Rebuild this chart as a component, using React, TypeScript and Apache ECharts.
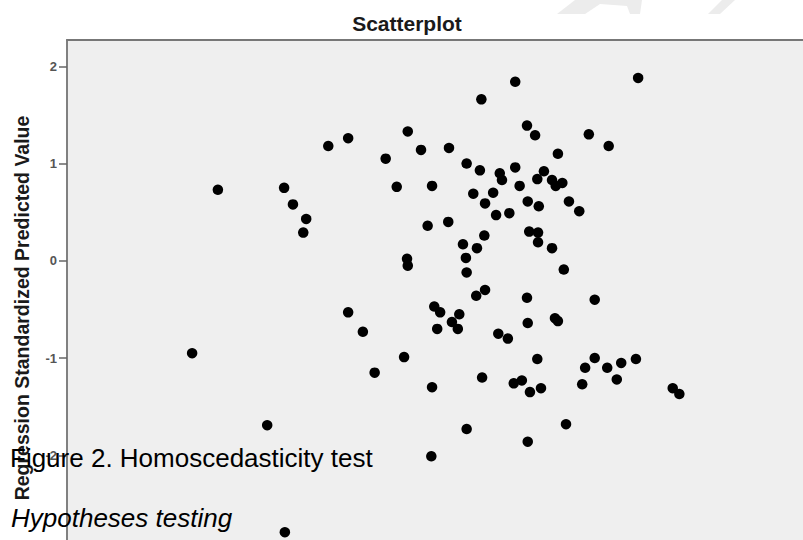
import React, { useEffect, useRef } from "react";
import * as echarts from "echarts";

// Horizontal position of each case (x axis not visible in the reference; arbitrary 0-100 scale)
const residuals = [
  17.0, 20.5, 27.2, 29.6, 29.5, 30.7, 32.5, 32.1, 35.5, 38.2,
  38.2, 40.2, 41.8, 43.3, 44.8, 45.8, 46.3, 46.2, 46.3, 48.1,
  49.0, 49.6, 49.6, 49.5, 49.9, 50.7, 50.3, 51.8, 51.9, 52.3,
  53.1, 53.3, 53.8, 54.2, 54.3, 54.3, 54.3, 55.2, 55.7, 55.6,
  56.1, 56.3, 56.4, 56.7, 56.8, 56.8, 57.9, 58.3, 58.6, 58.8,
  59.1, 59.9, 60.1, 60.7, 60.9, 60.9, 61.5, 61.8, 62.5, 62.5,
  62.6, 62.8, 64.0, 62.6, 62.6, 62.9, 63.6, 63.9, 63.9, 64.1,
  64.0, 64.4, 64.8, 65.9, 66.4, 67.3, 65.9, 66.3, 66.7, 66.7,
  67.5, 67.8, 68.2, 69.6, 70.0, 70.4, 70.9, 71.7, 71.7, 73.4,
  73.6, 74.7, 75.3, 77.3, 77.6, 82.3, 83.2,
];

// Regression standardized predicted value of each case
const predicted = [
  -0.95, 0.73, -1.69, -2.79, 0.75, 0.58, 0.43, 0.29, 1.18, 1.26,
  -0.53, -0.73, -1.15, 1.05, 0.76, -0.99, 1.33, 0.02, -0.05, 1.14,
  0.36, 0.77, -1.3, -2.01, -0.47, -0.53, -0.7, 0.4, 1.16, -0.63,
  -0.7, -0.55, 0.17, 0.03, 1.0, -0.12, -1.73, 0.69, 0.13, -0.36,
  0.93, 1.66, -1.2, 0.26, 0.59, -0.3, 0.7, 0.47, -0.75, 0.9,
  0.83, -0.8, 0.49, -1.26, 1.84, 0.96, 0.77, -1.23, 1.39, -0.38,
  0.61, 0.3, 0.29, -0.64, -1.86, -1.35, 1.29, 0.84, -1.01, 0.56,
  0.19, -1.31, 0.92, 0.83, 0.77, 0.8, 0.13, -0.59, -0.62, 1.1,
  -0.09, -1.68, 0.61, 0.51, -1.27, -1.1, 1.3, -0.4, -1.0, -1.1,
  1.18, -1.22, -1.05, -1.01, 1.88, -1.31, -1.37,
];

const yTickValues = [-2, -1, 0, 1, 2];

const titleText = "Scatterplot";
const yAxisTitle = "Regression Standardized Predicted Value";
const captionText = "Figure 2. Homoscedasticity test";
const subheadText = "Hypotheses testing";

export default function App() {
  const ref = useRef<HTMLDivElement>(null);

  useEffect(() => {
    if (!ref.current) return;
    const chart = echarts.init(ref.current, null, { renderer: "svg" });
    const points = residuals.map((x, i) => [x, predicted[i]]);
    const font = "'Liberation Sans', Arial, sans-serif";

    chart.setOption({
      animation: false,
      backgroundColor: "#ffffff",
      grid: {
        left: 67,
        top: 40,
        right: 0,
        bottom: -12.6,
        outerBoundsMode: "none",
        containLabel: false,
        show: true,
        backgroundColor: "#efefef",
        borderWidth: 0,
      },
      xAxis: {
        type: "value",
        position: "top",
        min: 0,
        max: 100,
        axisLine: { show: true, onZero: false, lineStyle: { color: "#777", width: 2 } },
        axisTick: { show: false },
        axisLabel: { show: false },
        splitLine: { show: false },
      },
      yAxis: {
        type: "value",
        min: -3,
        max: 2.27,
        interval: 1,
        axisLine: { show: true, onZero: false, lineStyle: { color: "#808080", width: 2 } },
        axisTick: {
          show: true,
          length: 8,
          customValues: yTickValues,
          lineStyle: { color: "#666", width: 1.5 },
        },
        axisLabel: {
          customValues: yTickValues,
          margin: 10,
          color: "#555",
          fontSize: 13,
          fontWeight: "bold",
          fontFamily: font,
        },
        splitLine: { show: false },
      },
      series: [
        {
          type: "scatter",
          data: points,
          symbol: "circle",
          symbolSize: 10.5,
          itemStyle: { color: "#000", opacity: 1 },
        },
      ],
      graphic: [
        {
          type: "polygon",
          silent: true,
          shape: {
            points: [
              [557, 14], [575, 0], [642, 0], [640, 14], [630, 14],
              [627, 6], [600, 4], [585, 14],
            ],
          },
          style: { fill: "#ececec" },
        },
        {
          type: "polygon",
          silent: true,
          shape: { points: [[708, 14], [722, 0], [735, 0], [720, 14]] },
          style: { fill: "#ececec" },
        },
        {
          type: "text",
          x: 407,
          y: 23,
          style: {
            text: titleText,
            fontSize: 21,
            fontWeight: "bold",
            fontFamily: font,
            fill: "#1a1a1a",
            align: "center",
            verticalAlign: "middle",
          },
        },
        {
          type: "text",
          x: 22,
          y: 308,
          rotation: Math.PI / 2,
          style: {
            text: yAxisTitle,
            fontSize: 19.5,
            fontWeight: "bold",
            fontFamily: font,
            fill: "#1a1a1a",
            align: "center",
            verticalAlign: "middle",
          },
        },
        {
          type: "text",
          x: 10,
          y: 457.5,
          z: 100,
          style: {
            text: captionText,
            fontSize: 26,
            fontFamily: font,
            fill: "#000",
            align: "left",
            verticalAlign: "middle",
          },
        },
        {
          type: "text",
          x: 11,
          y: 518,
          z: 100,
          style: {
            text: subheadText,
            fontSize: 26,
            fontStyle: "italic",
            fontFamily: font,
            fill: "#000",
            align: "left",
            verticalAlign: "middle",
          },
        },
      ],
    });

    return () => chart.dispose();
  }, []);

  return (
    <div
      ref={ref}
      style={{ position: "absolute", left: 0, top: 0, width: 803, height: 540 }}
    />
  );
}
